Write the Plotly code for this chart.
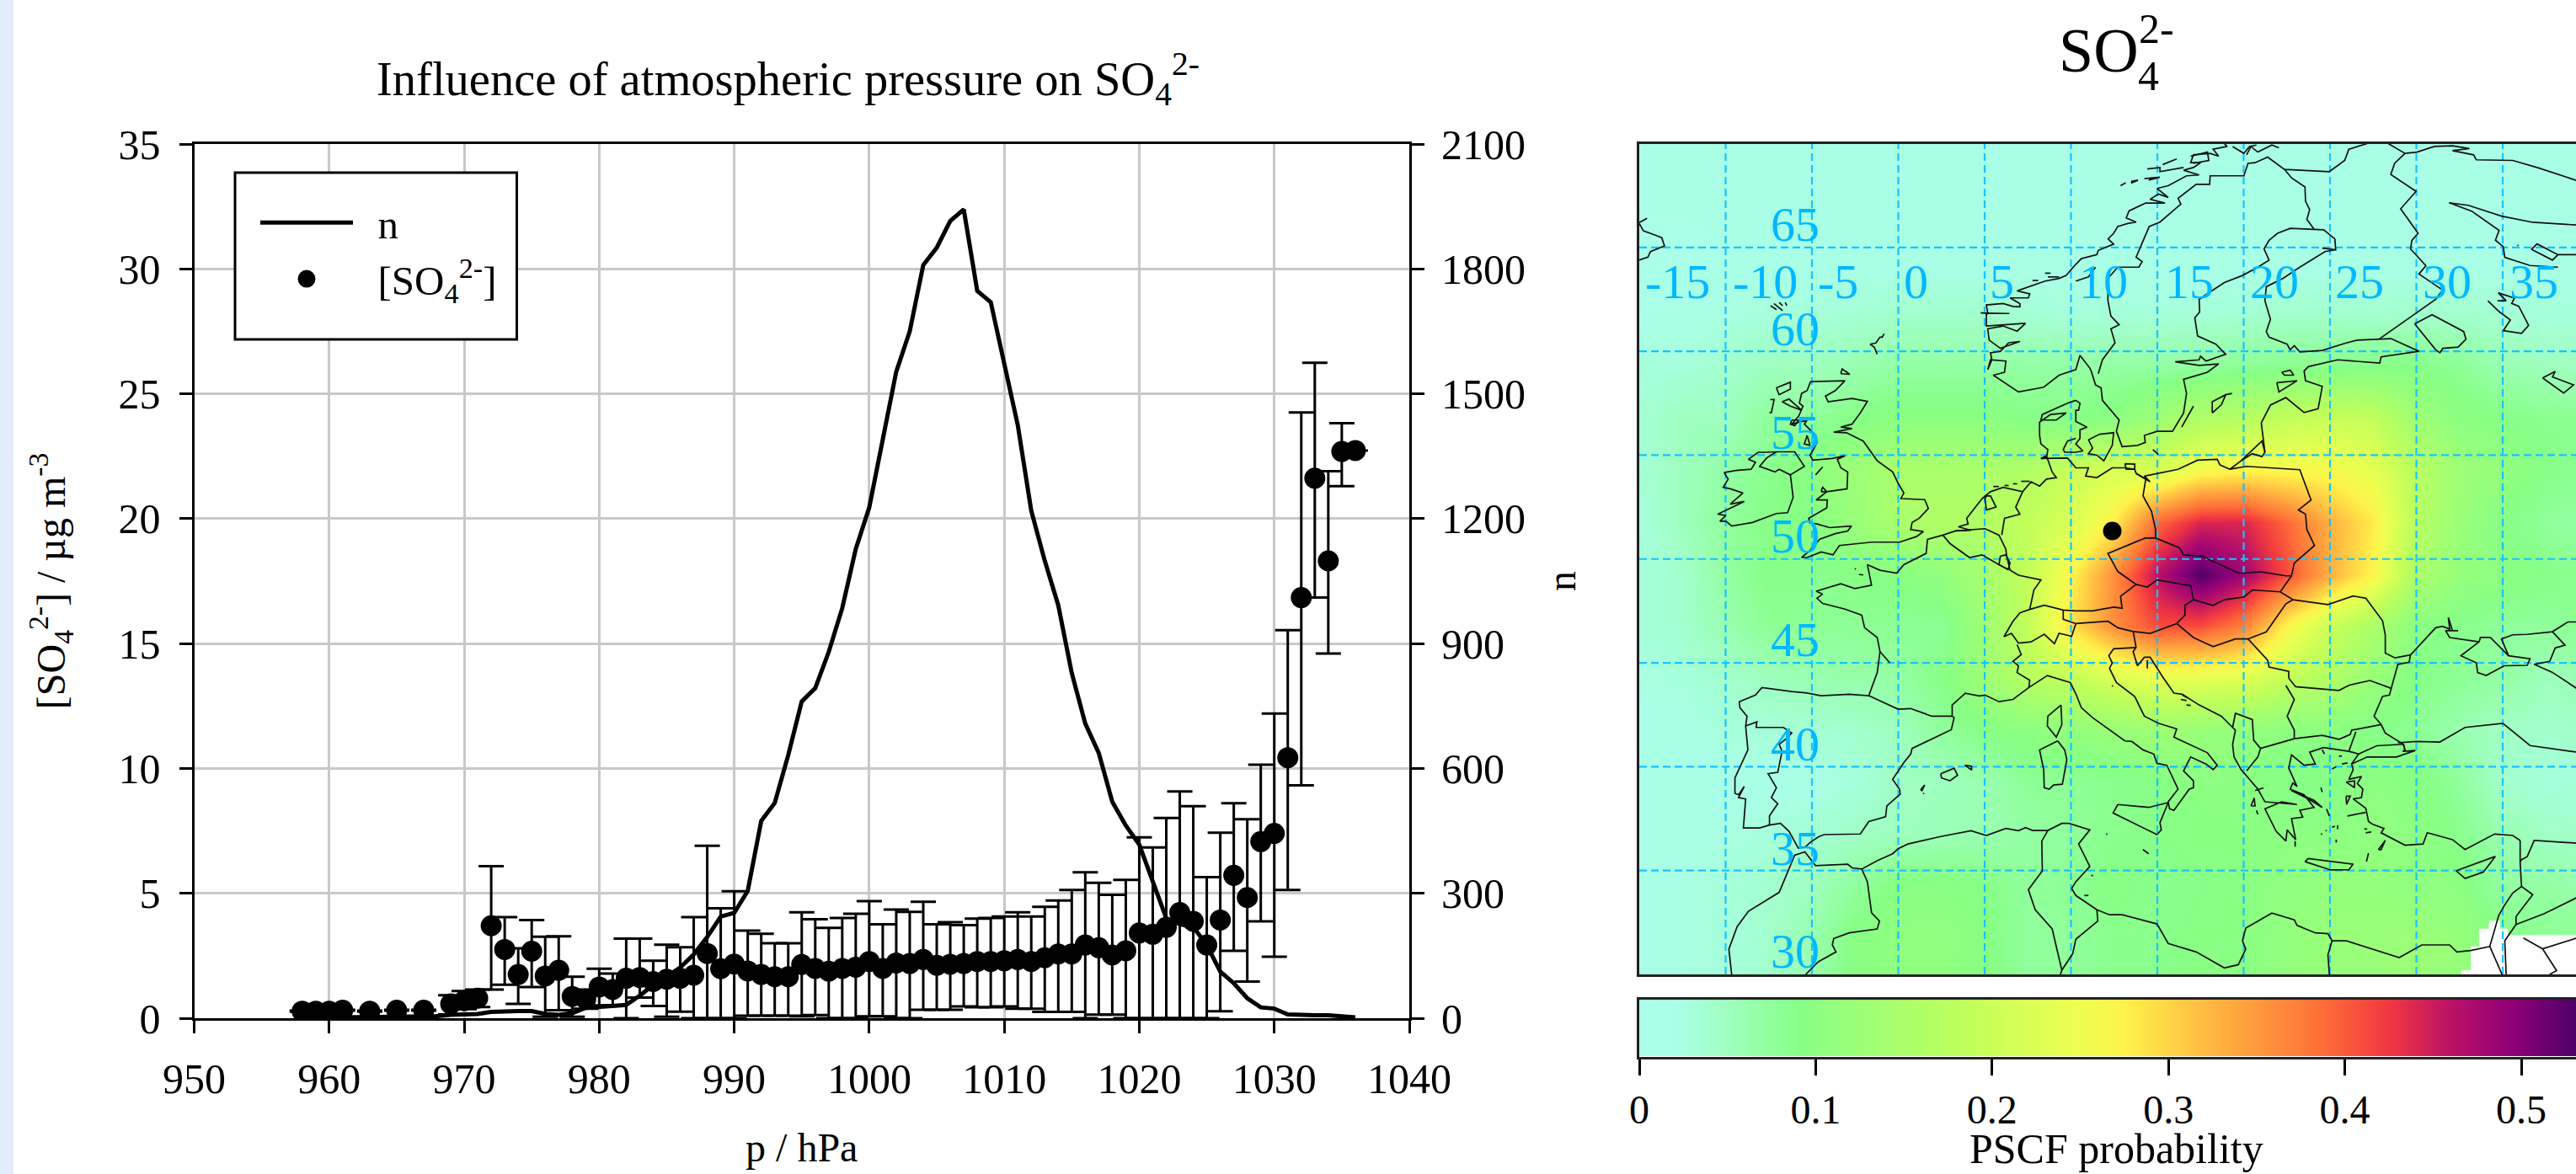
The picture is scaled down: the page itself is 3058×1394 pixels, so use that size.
import plotly.graph_objects as go

W, H = 3058, 1394
FONT = "Liberation Serif"

# ---------------- left panel data ----------------
pressure_n = [958,960,962,964,966,968,969,970,971,972,973,974,975,976,977,978,979,980,981,982,983,984,985,986,987,988,989,990,
              991,992,993,994,995,996,997,998,999,1000,1001,1002,1003,1004,1005,1006,1007,1008,1009,1010,1011,1012,1013,1014,
              1015,1016,1017,1018,1019,1020,1021,1022,1023,1024,1025,1026,1027,1028,1029,1030,1031,1032,1033,1034,1035,1036]
n_values = [1,2,2,3,3,5,8,8,10,15,17,17,17,10,8,12,25,28,30,32,54,80,100,122,153,195,244,253,
            306,474,517,632,761,793,880,985,1127,1227,1390,1553,1650,1809,1851,1915,1943,1747,1720,1567,1425,1219,1099,992,
            829,708,637,520,463,417,325,240,226,219,176,112,84,48,26,23,9,7,7,7,5,2]

pressure_so4 = [958,959,960,961,963,965,967,969,970,971,972,973,974,975,976,977,978,979,980,981,982,983,984,985,986,987,988,989,
                990,991,992,993,994,995,996,997,998,999,1000,1001,1002,1003,1004,1005,1006,1007,1008,1009,1010,1011,1012,1013,
                1014,1015,1016,1017,1018,1019,1020,1021,1022,1023,1024,1025,1026,1027,1028,1029,1030,1031,1032,1033,1034,1035,1036]
so4_values = [.28,.28,.28,.32,.28,.32,.32,.57,.7,.8,3.7,2.75,1.75,2.68,1.69,1.92,.87,.77,1.25,1.15,1.6,1.63,1.47,1.56,1.6,1.72,2.59,1.98,
              2.17,1.89,1.75,1.66,1.66,2.15,1.99,1.88,1.99,2.04,2.27,1.99,2.21,2.19,2.35,2.12,2.16,2.19,2.27,2.27,2.3,2.35,2.27,2.42,
              2.57,2.57,2.93,2.82,2.53,2.7,3.41,3.36,3.64,4.23,3.88,2.93,3.93,5.72,4.83,7.07,7.4,10.43,16.84,21.62,18.31,22.69,22.73]
so4_upper = [.3,.3,.3,.34,.3,.34,.34,.92,1.09,1.15,6.09,4.05,2.8,3.93,3.26,3.28,1.66,1.15,1.98,1.79,3.19,3.19,2.3,2.94,2.84,4.05,6.9,4.4,
             5.08,3.51,3.38,3.0,3.0,4.24,3.96,3.62,4.01,4.18,4.69,3.76,4.35,4.26,4.66,3.76,3.84,3.73,3.99,4.01,4.07,4.24,4.07,4.46,
             4.71,5.13,5.84,5.42,4.94,5.54,7.24,6.84,8.02,9.08,8.49,5.65,7.43,8.61,7.97,10.15,12.2,15.54,24.25,26.24,21.9,23.82,22.73]
so4_lower = [.26,.26,.26,.3,.26,.3,.3,.15,.36,.45,1.15,1.34,.57,1.25,.06,.32,.06,.38,.51,.51,0,.83,.49,.06,.26,0,0,0,
             0,.1,.1,.1,.1,.08,.13,0,0,0,.08,.08,0,0,.34,.34,.34,.47,.44,.44,.47,.38,.38,.25,
             .25,.25,0,.14,.14,0,0,0,0,0,0,0,.28,2.7,1.47,3.88,2.46,5.13,9.32,16.84,14.6,21.3,22.73]

# ---------------- PSCF grid (rows south to north) ----------------
grid_lon = [-15,-12.5,-10,-7.5,-5,-2.5,0,2.5,5,7.5,10,12.5,15,17.5,20,22.5,25,27.5,30,32.5,35,37.5,40,42.5]
grid_lat = [29.25,31.75,34.25,36.75,39.25,41.75,44.25,46.75,49.25,51.75,54.25,56.75,59.25,61.75,64.25,66.75,69.25,71.75]
pscf_29 = [.02,.025,.03,.04,.06,.095,.105,.105,.095,.075,.075,.085,.085,.095,.095,.11,.12,.12,.125,.115,.09,.08,.08,.08]
pscf_31 = [.02,.025,.03,.04,.06,.095,.105,.105,.095,.075,.075,.085,.085,.095,.095,.11,.12,.12,.125,.115,.09,.08,.08,.08]
pscf_34 = [.02,.025,.03,.04,.05,.075,.095,.095,.09,.075,.08,.095,.085,.09,.095,.105,.11,.115,.105,.10,.07,.07,.06,.06]
pscf_36 = [.02,.02,.025,.03,.035,.045,.05,.055,.06,.07,.075,.085,.09,.095,.095,.10,.10,.105,.10,.085,.06,.045,.04,.04]
pscf_39 = [.02,.02,.02,.02,.02,.03,.045,.05,.06,.08,.08,.085,.09,.10,.10,.09,.09,.10,.095,.075,.04,.03,.03,.03]
pscf_41 = [.02,.02,.03,.03,.035,.04,.05,.075,.09,.10,.11,.12,.13,.12,.11,.10,.10,.09,.08,.06,.045,.04,.045,.045]
pscf_44 = [.025,.03,.04,.05,.06,.065,.07,.09,.13,.17,.19,.22,.24,.235,.23,.19,.16,.12,.09,.08,.07,.05,.06,.06]
pscf_46 = [.03,.04,.06,.08,.08,.08,.08,.08,.13,.19,.29,.36,.41,.41,.37,.27,.20,.15,.10,.085,.075,.075,.085,.085]
pscf_49 = [.03,.04,.07,.09,.085,.09,.095,.11,.14,.19,.27,.36,.46,.53,.48,.41,.33,.27,.15,.115,.10,.09,.08,.08]
pscf_51 = [.03,.05,.075,.09,.09,.12,.15,.16,.16,.19,.22,.28,.39,.44,.44,.39,.33,.28,.17,.12,.09,.075,.07,.07]
pscf_54 = [.035,.05,.07,.085,.10,.125,.15,.15,.15,.16,.20,.22,.22,.26,.27,.265,.26,.24,.17,.13,.11,.09,.08,.08]
pscf_56 = [.035,.05,.05,.075,.075,.09,.10,.10,.10,.09,.09,.10,.13,.16,.17,.19,.20,.19,.13,.10,.09,.085,.08,.08]
pscf_59 = [.03,.03,.04,.05,.05,.06,.07,.07,.07,.07,.07,.07,.07,.075,.08,.085,.085,.09,.09,.08,.06,.05,.05,.05]
pscf_61 = [.02,.02,.025,.03,.03,.035,.04,.04,.04,.035,.03,.03,.03,.03,.035,.04,.04,.04,.04,.04,.035,.03,.03,.03]
pscf_64 = [.015,.015,.02,.02,.02,.02,.02,.02,.02,.02,.02,.02,.02,.02,.02,.02,.02,.02,.02,.02,.02,.02,.02,.02]
pscf_66 = [.02,.02,.02,.02,.02,.02,.02,.02,.02,.02,.02,.02,.02,.02,.02,.02,.02,.02,.02,.02,.02,.02,.02,.02]
pscf_69 = [.02,.02,.02,.02,.02,.02,.02,.02,.02,.02,.02,.02,.02,.02,.02,.02,.02,.02,.02,.02,.02,.02,.02,.02]
pscf_71 = [.02,.02,.02,.02,.02,.02,.02,.02,.02,.02,.02,.02,.02,.02,.02,.02,.02,.02,.02,.02,.02,.02,.02,.02]
pscf_rows = [pscf_29,pscf_31,pscf_34,pscf_36,pscf_39,pscf_41,pscf_44,pscf_46,pscf_49,pscf_51,pscf_54,pscf_56,pscf_59,pscf_61,pscf_64,pscf_66,pscf_69,pscf_71]
no_data_lon = [32.6,32.6,33.15,33.15,33.63,33.63,34.2,34.2,34.85,34.85,35.3,35.3,39.3,39.3]
no_data_lat = [30,30.2,30.2,31.35,31.35,32.2,32.2,32.59,32.59,32.2,32.2,31.9,31.9,30]

site_lon, site_lat = [12.39], [51.35]
meridians = [-10,-5,0,5,10,15,20,25,30,35]
parallels = [35,40,45,50,55,60,65]
lon_labels = {"-15":-12.8,"-10":-7.7,"-5":-3.5,"0":1.0,"5":6.0,"10":11.9,"15":16.85,"20":21.8,"25":26.7,"30":31.8,"35":36.8}
lat_labels = {"65":66.1,"60":61.1,"55":56.1,"50":51.1,"45":46.1,"40":41.1,"35":36.05,"30":31.1}

# ---------------- coastlines and borders (lon, lat) ----------------
great_britain = [(-5.08,58.54),(-3.09,58.58),(-3.65,58.11),(-4.22,57.84),(-4.06,57.57),(-2.68,57.73),(-1.79,57.59),(-2.2,57.03),(-2.68,56.49),(-3.33,56.35),(-2.68,56.28),(-3.74,56.11),(-3.0,56.08),(-2.03,55.68),(-1.22,54.73),(-.33,54.19),(-.01,53.65),(.32,53.18),(.15,52.91),(1.53,52.86),(1.74,52.43),(1.21,51.96),(.8,51.76),(.72,51.42),(1.45,51.32),(1.05,51.08),(.07,50.81),(-1.55,50.81),(-3.41,50.65),(-3.78,50.2),(-4.47,50.34),(-5.28,50.07),(-5.6,50.07),(-5.11,50.41),(-4.55,50.95),(-3.65,51.22),(-2.93,51.35),(-2.71,51.59),(-3.98,51.51),(-4.71,51.69),(-5.11,51.73),(-5.19,51.96),(-4.14,52.46),(-4.11,52.84),(-4.76,52.84),(-4.14,53.24),(-2.97,53.38),(-2.93,54.19),(-3.33,54.39),(-3.53,54.8),(-3.09,54.97),(-3.82,54.84),(-4.95,54.76),(-5.11,55),(-4.87,55.34),(-4.71,55.61),(-5.11,56.22),(-5.44,56.49),(-5.28,56.69),(-6.17,56.49),(-5.76,56.89),(-5.52,57.36),(-5.73,57.5),(-5.6,57.97),(-5.28,58.11),(-5.08,58.54)]
ireland = [(-10.09,54.16),(-9.41,54.26),(-8.52,54.32),(-8.27,54.66),(-8.68,54.8),(-8.11,55.14),(-7.63,55.14),(-7.06,55.16),(-6.0,55.16),(-5.44,54.46),(-6.25,54.05),(-6.09,52.97),(-6.41,52.23),(-7.06,52.19),(-8.44,51.76),(-9.65,51.59),(-9.98,51.82),(-10.33,51.82),(-9.98,52.09),(-10.46,52.16),(-9.94,52.36),(-8.92,52.77),(-9.73,52.64),(-9.0,53.18),(-9.73,53.38),(-10.14,53.45),(-9.85,53.85),(-10.09,54.16)]
ni_border = [(-7.06,55.16),(-7.63,54.86),(-8.03,54.46),(-7.14,54.19),(-6.9,54.32),(-6.25,54.05)]
lewis = [(-7.06,58.24),(-6.25,58.51),(-6.25,58.18),(-6.9,57.91),(-7.06,58.24)]
uist = [(-7.41,57.68),(-7.19,57.68),(-7.35,57.05),(-7.46,57.05)]
skye = [(-6.73,57.57),(-6.33,57.7),(-5.6,57.16),(-6.25,57.36),(-6.73,57.57)]
mull = [(-6.17,56.69),(-5.76,56.69),(-6.0,56.42),(-6.25,56.49),(-6.17,56.69)]
arran = [(-5.28,55.95),(-5.11,55.47),(-5.44,55.54),(-5.28,55.95)]
man = [(-4.38,54.43),(-4.79,54.05)]
anglesey = [(-4.47,53.24),(-4.38,53.45),(-4.14,53.24),(-4.47,53.24)]
shetland = [(-.82,60.84),(-.93,60.68),(-1.06,60.68),(-1.3,60.4),(-1.63,60.34),(-1.39,60.2),(-1.22,59.86)]
orkney = [(-3.33,58.92),(-3.25,59.15),(-2.81,58.89),(-3.33,58.92)]
faroe_a = [(-7.4,62.2),(-7.05,62.0)]
faroe_b = [(-7.2,62.3),(-6.7,61.96)]
faroe_c = [(-6.9,62.35),(-6.7,62.2)]
faroe_d = [(-6.55,62.35),(-6.45,62.2)]
iceland = [(-15,66.15),(-14.76,65.8),(-14.1,65.6),(-13.7,65.47),(-13.54,65.07),(-13.95,64.93),(-14.35,64.8),(-14.5,64.53),(-15,64.4)]
iceland_spike = [(-15,66.2),(-14.55,66.4)]
norway_south = [(10.28,64.19),(9.72,63.65),(9.31,63.51),(8.5,63.38),(6.88,62.91),(7.61,62.77),(7.53,62.57),(6.47,62.57),(7.04,62.3),(7.04,62.14),(6.64,62.16),(6.07,62.3),(5.1,62.23),(5.18,61.82),(4.77,61.85),(6.43,61.82),(5.1,61.82),(5.1,61.22),(7.37,61.35),(6.88,60.97),(6.07,61.22),(5.18,61.08),(5.26,60.54),(5.91,60.14),(7.04,60.47),(6.39,60.41),(5.91,60),(5.34,59.93),(5.42,59.59),(5.18,59.12),(5.34,59.59),(6.23,59.53),(6.15,58.99),(5.5,58.85),(6.64,58.24),(6.96,58.04),(8.42,58.27),(9.31,58.85),(10.28,59.12),(10.52,59.8),(11.09,59.19),(11.17,59.05)]
norway_north = [(10.28,64.19),(10.6,64.46),(11.5,64.66),(11.58,64.86),(12.47,65.16),(12.15,65.41),(12.47,65.68),(12.71,66.01),(13.28,66.15),(13.77,66.22),(13.2,66.42),(13.36,66.76),(14.33,67.14),(15.44,67.14),(14.58,67.32),(15.06,67.57),(15.63,67.41),(14.98,67.84),(15.63,67.97),(16.2,68.24),(16.69,68.45),(17.42,68.49),(16.52,68.72),(17.09,68.85),(17.5,69.08),(16.93,69.08),(17.09,69.46),(18.06,69.53),(18.55,69.39),(18.23,69.73),(19.04,69.86),(18.88,70)]
lofoten_a = [(12.87,67.97),(13.17,68.11)]
lofoten_b = [(13.49,68.18),(13.88,68.24),(13.52,68.11),(13.49,68.18)]
lofoten_c = [(14.25,68.31),(15.15,68.38),(14.5,68.24)]
lofoten_d = [(14.42,68.78),(15.15,68.85),(15.15,68.65),(16.52,68.85)]
lofoten_e = [(15.31,68.99),(16.12,69.26)]
senja = [(16.93,69.39),(17.9,69.59),(17.98,69.19),(17.09,69.05)]
troms_a = [(19.36,69.86),(20.01,69.53),(20.34,69.86),(20.74,69.93)]
troms_b = [(20.17,69.46),(20.42,69.86),(20.82,69.59),(21.63,69.93),(22.04,69.8)]
border_se_no = [(11.58,58.92),(11.82,59.59),(12.55,60.41),(12.31,61.08),(12.79,61.28),(12.31,61.69),(12.14,62.43),(12.14,63.51),(12.71,64.05),(13.93,64.05),(14.12,64.32),(13.77,64.53),(14.53,66.01),(15.15,66.22),(16.36,67.09),(16.2,67.36),(17.25,68.04),(18.03,68.04),(18.06,68.45),(20.01,68.45),(20.25,69.05),(20.66,69.08),(21.39,69.35),(22.36,68.76),(24.96,68.65),(25.85,69.19),(26.09,69.73),(27.15,70)]
trondheim = [(10.28,63.38),(11.01,63.58),(11.42,64.05)]
sweden_coast = [(11.17,59.05),(11.42,58.38),(11.74,58.24),(11.82,57.64),(12.79,56.69),(12.63,56.15),(12.96,55.41),(13.85,55.47),(14.3,55.61),(14.25,55.95),(14.98,56.15),(15.88,56.15),(16.52,57.03),(16.69,57.97),(16.52,58.65),(17.9,58.99),(18.55,59.39),(17.42,59.32),(16.04,59.49),(17.42,59.59),(17.5,59.76),(17.82,59.53),(18.96,59.86),(18.39,60.34),(17.33,60.74),(17.17,61.62),(17.45,61.89),(17.42,62.5),(17.9,62.77),(18.88,63.31),(19.93,63.65),(20.82,64.05),(21.47,64.39),(21.18,64.93),(21.47,65.34),(21.96,65.68),(22.69,65.92),(24.07,65.88),(24.63,65.85),(25.28,65.41),(25.33,64.89),(24.55,64.97)]
finland_baltic = [(25.33,64.89),(24.71,64.8),(23.25,64.05),(22.28,63.51),(21.31,63.11),(21.23,62.43),(21.55,61.55),(21.31,60.95),(21.47,60.68),(22.52,60.34),(22.69,60.07),(22.93,60.27),(23.25,59.97),(24.55,60.04),(25.85,60.38),(26.58,60.54),(28.53,60.61),(30.15,60.0),(27.96,59.73),(27.88,59.43),(25.44,59.59),(23.74,59.26),(23.5,59.05),(23.58,58.58),(24.55,58.31),(24.31,57.23),(23.5,57.05),(22.44,57.77),(21.55,57.41),(21.02,56.55),(21.23,55.14),(21.06,54.93),(20.5,55.07),(19.85,54.73),(19.2,54.32)]
vistula_spit = [(19.85,54.73),(21.06,55.68),(21.23,55.14)]
border_se_fi = [(22.36,68.76),(22.77,68.35),(23.55,67.91),(23.58,67.23),(23.82,66.82),(23.66,66.35),(24.07,65.88)]
border_fi_ru = [(27.88,60.61),(31.12,62.5),(31.52,62.95),(30.15,63.72),(30.55,64.12),(29.66,64.93),(29.74,65.34),(30.1,65.68),(29.09,66.86),(29.98,67.7),(28.52,68.51),(28.74,69.05),(29.34,69.53),(28.37,70)]
kola_north = [(29.34,69.53),(30.03,69.59),(31.04,69.86),(32.09,69.89),(33.07,69.76),(32.09,69.66),(33.31,69.46),(33.47,69.22),(35.58,69.19),(37.07,68.83),(39.3,68.22)]
white_sea_n = [(31.9,67.15),(33.0,67.03),(34.93,66.51),(36.74,66.21),(39.3,66.08)]
white_sea_s = [(31.9,67.15),(33.2,66.75),(34.79,65.82),(34.58,65.35),(35.03,65.04),(35.12,64.52),(36.58,64.13),(38.2,64.05)]
white_sea_e = [(36.66,64.91),(36.99,65.17),(38.2,64.65),(39.3,64.65)]
white_sea_f = [(36.66,64.91),(37.88,64.39),(38.2,64.65)]
ladoga = [(29.9,61.32),(30.91,61.76),(32.74,60.95),(32.87,60.58),(32.42,60.2),(31.53,60.14),(31.36,59.93),(31.12,60.07),(29.9,61.32)]
onega = [(34.14,62.43),(34.79,61.91),(35.44,61.51),(35.03,60.99),(36.09,60.86),(36.5,61.25),(35.93,62.17),(35.52,62.3),(35.68,62.56),(34.74,62.82),(35.2,62.43),(34.7,62.43)]
rybinsk = [(37.31,58.72),(38.04,59.03),(37.88,58.77),(39.1,58.38),(38.53,57.99),(37.31,58.72)]
saaremaa = [(22.2,58.99),(22.69,59.09),(22.9,58.85),(22.36,58.85),(22.2,58.99)]
hiiumaa = [(21.92,58.49),(23.09,58.58),(22.04,58.04),(21.92,58.49)]
gotland = [(18.18,57.03),(18.18,57.57),(18.96,57.91),(19.33,57.97),(18.96,57.91),(18.71,57.43),(18.18,57.03)]
oland = [(16.41,56.35),(17.09,57.36),(16.52,56.49),(16.41,56.35)]
bornholm = [(14.74,55.27),(15.06,55.03)]
sjaelland = [(11.01,55.74),(11.66,56.01),(12.47,56.08),(12.39,55.47),(11.9,54.73),(11.5,55),(11.01,55.07),(11.25,55.34),(11.01,55.74)]
jutland = [(10.28,57.64),(9.8,57.5),(8.34,56.96),(8.26,56.69),(9.15,56.69),(9.72,57.03),(8.82,56.96),(8.18,56.59),(8.18,55.95),(8.26,55.54),(8.66,55.27),(8.58,54.86),(8.26,54.84),(8.58,54.97),(8.91,54.19),(9.15,53.92),(8.58,53.85),(8.18,53.51),(7.69,53.72),(7.2,53.24),(6.07,53.45),(5.34,53.24),(4.85,52.91),(3.96,51.96),(4.04,51.69),(3.48,51.55),(4.21,51.38),(3.31,51.35),(2.58,51.15),(1.69,50.95),(1.61,50.27),(.32,49.73),(-.09,49.32),(-1.06,49.46),(-1.79,49.73),(-1.55,48.74),(-2.52,48.58),(-3.33,48.81),(-4.76,48.45),(-4.38,48.31),(-4.71,48.11),(-4.38,47.86),(-3.09,47.59),(-2.12,47.3),(-1.95,46.69),(-1.22,46.22),(-1.06,45.54),(-1.22,44.53),(-1.71,43.42),(-2.84,43.49),(-4.47,43.42),(-5.28,43.55),(-6.17,43.62),(-7.9,43.81),(-8.27,43.45),(-9.21,43.13),(-9.17,42.84),(-8.76,42.43),(-8.84,41.96),(-8.71,40.81),(-9.46,39.46),(-9.46,38.72),(-9.25,38.65),(-8.92,39.05),(-9.25,38.51),(-8.84,38.45),(-8.97,37.05),(-8.03,37.05),(-7.46,37.19),(-6.82,37.27),(-6.33,36.89),(-5.79,36.08),(-5.36,36.15),(-5.11,36.35),(-4.63,36.62),(-4.3,36.73),(-2.2,36.76),(-1.71,37.36),(-.74,37.59),(-.66,38.11),(.11,38.68),(.07,38.92),(-.33,39.39),(.32,40.2),(.72,40.61),(.8,40.88),(3.07,41.78),(3.23,42.36),(3.12,42.43),(3.12,42.97),(3.88,43.54),(4.69,43.41),(5.02,43.45),(5.83,43.13),(6.64,43.24),(7.56,43.81),(8.63,44.39),(9.96,44.05),(10.28,43.51),(10.6,42.84),(11.25,42.36),(13.12,41.24),(13.52,41.22),(14.17,40.81),(14.79,40.61),(14.98,40.16),(15.55,40.07),(16.2,38.92),(15.63,38.31),(15.71,37.97),(15.96,37.9),(16.85,38.92),(17.09,38.99),(17.09,39.32),(16.52,39.8),(16.93,40.47),(17.82,40.13),(18.23,39.86),(18.47,40.07),(17.9,40.67),(15.96,41.42),(16.12,41.82),(15.06,42.09),(14.25,42.43),(13.69,43.38),(12.63,44.05),(12.23,44.73),(12.39,45.0),(12.19,45.34),(12.47,45.68),(13.77,45.74)]
jutland_east = [(10.28,57.64),(10.52,57.5),(10.44,57.16),(10.28,57.16),(10.28,56.62),(10.93,56.35),(10.52,56.22),(10.52,55.81),(10.28,55.54),(10.69,55.2),(10.28,55.14),(9.64,55.14),(9.55,55.27),(9.8,55.68),(10.28,55.81)]
schleswig = [(8.26,54.84),(9.8,54.86),(10.28,54.39),(11.01,54.39),(10.85,53.99),(11.5,53.92),(12.39,54.39),(13.12,54.39),(13.69,54.32),(13.77,54.12),(14.58,53.72),(14.25,53.99),(16.2,54.32),(17.33,54.76),(18.47,54.8),(18.63,54.53),(19.2,54.32)]
rugen = [(13.12,54.59),(13.69,54.57),(13.69,54.32),(13.2,54.32),(13.12,54.59)]
ijsselmeer = [(5.1,53.04),(5.34,53.04),(5.66,52.5),(5.1,52.36),(5.02,52.91),(5.1,53.04)]
border_nl_de = [(7.2,53.24),(6.8,52.5),(7.04,52.16),(6.15,51.96),(5.99,51.15)]
border_be_nl = [(3.31,51.35),(5.02,51.46),(5.83,51.15),(6.23,50.47),(6.26,50.2),(6.47,49.46),(6.96,49.22),(8.26,48.99),(7.85,48.51),(7.61,47.57)]
border_fr_be = [(2.58,51.15),(3.0,50.74),(4.12,50.07),(4.85,50.2),(5.83,49.73),(6.36,49.49)]
luxembourg = [(5.91,50.14),(5.83,49.73),(6.36,49.49),(6.47,49.8),(6.23,50.2),(5.91,50.14)]
border_fr_ch = [(7.61,47.57),(7.04,47.41),(6.64,47.0),(6.12,46.26),(6.55,46.42),(6.96,45.95)]
border_ch_de = [(7.61,47.57),(8.45,47.77),(9.55,47.54),(10.28,47.5)]
border_ch_it = [(6.96,45.95),(7.69,46.01),(8.45,46.38),(9.04,45.92),(9.31,46.42),(10.04,46.28),(10.28,46.89)]
liechtenstein = [(9.55,47.54),(9.55,47.1),(10.28,46.89)]
border_fr_it = [(6.88,45.88),(7.12,45.4),(6.64,45.07),(6.96,44.86),(6.88,44.53),(7.61,44.16),(7.56,43.81)]
pyrenees = [(-1.71,43.42),(-.01,42.77),(.72,42.8),(1.94,42.43),(3.12,42.43)]
border_es_pt = [(-8.84,41.96),(-8.19,42.16),(-8.23,41.89),(-6.65,41.89),(-6.17,41.62),(-6.49,41.35),(-6.9,41.08),(-6.73,40.74),(-6.98,39.73),(-7.54,39.66),(-7.06,38.99),(-7.35,38.51),(-6.98,38.22),(-7.46,37.63),(-7.46,37.19)]
gironde = [(-1.06,45.54),(-.49,45.0)]
mallorca = [(2.46,39.66),(3.23,39.93),(3.43,39.59),(2.99,39.32),(2.5,39.46),(2.46,39.66)]
menorca = [(3.85,40.07),(4.24,40.03),(4.25,39.84),(3.85,40.07)]
ibiza = [(1.29,38.89),(1.53,39.12),(1.37,38.85),(1.29,38.89)]
corsica = [(9.42,42.97),(9.47,42.03),(9.15,41.42),(8.63,41.96),(8.66,42.43),(9.42,42.97)]
sardinia = [(9.23,41.24),(9.63,40.81),(9.76,40.34),(9.5,39.16),(8.99,39.12),(8.74,38.92),(8.45,38.99),(8.42,39.86),(8.18,40.81),(9.23,41.24)]
sicily = [(12.71,38.18),(14.5,38.04),(15.63,38.27),(15.15,37.3),(15.23,36.96),(14.98,36.73),(12.44,37.77),(12.71,38.18)]
africa_west = [(-9.65,30),(-9.81,31.22),(-9.33,32.3),(-8.68,33.04),(-6.9,33.95),(-6.0,35.74),(-5.41,35.9),(-4.79,35.24),(-2.93,35.31),(-2.68,35.13),(-2.12,35.07),(-1.22,35.47),(-.33,35.81),(-.01,36.05),(.56,36.28),(2.34,36.62),(4.21,36.92),(5.1,36.69),(6.23,37.03),(6.96,36.92),(7.37,37.07),(7.77,36.93),(8.66,36.93),(9.47,37.27),(9.88,37.27),(10.28,37.16),(11.09,36.96),(10.44,36.28),(11.09,35.2),(10.28,34.46),(10.04,34.14),(10.28,33.8),(10.93,33.44),(11.5,33.11),(12.23,32.87),(12.96,32.87),(14.98,32.43),(15.63,31.49),(17.25,31.08),(18.88,30.31),(19.69,30.47),(20.12,31.22),(19.93,31.62),(20.12,32.23),(21.63,32.95),(22.93,32.63),(23.09,32.36),(24.15,32.0),(24.88,31.96),(25.12,31.62),(25.93,31.62),(29.01,30.81),(30.31,31.42),(31.93,31.42),(32.34,31.08),(33.15,31.15),(34.25,31.35),(34.77,32.84),(35.09,33.31),(35.58,33.92),(36.09,34.23),(36.01,35.4),(36.01,36.45)]
border_ma_dz = [(-2.12,35.07),(-1.79,34.46),(-1.55,32.97),(-1.09,32.57),(-1.22,32.19),(-2.84,32.0),(-3.74,31.73),(-3.82,31.42),(-3.61,31.08),(-4.63,30.61),(-5.36,30)]
border_dz_tn = [(8.66,36.93),(8.31,36.42),(8.34,34.99),(7.53,34.08),(7.93,33.11),(8.91,32.19),(9.47,30.2),(9.39,30)]
border_tn_ly = [(9.47,30.2),(10.1,31.0),(10.28,31.69),(11.55,32.57),(11.5,33.11)]
border_ly_eg = [(25.12,31.62),(24.88,30.94),(24.96,30)]
sinai = [(34.25,31.35),(34.96,30)]
israel = [(35.77,32.79),(35.77,32.4),(35.12,31.62),(35.2,30)]
border_jo = [(36.09,34.23),(36.74,33.84),(35.77,32.79)]
border_iq = [(35.77,32.4),(37.39,32.92),(39.3,33.7)]
border_sa = [(36.2,31.75),(37.31,31.23),(38.12,30.18),(37.72,30)]
border_sa2 = [(37.31,31.23),(39.3,31.75)]
border_pl_de = [(13.77,54.12),(14.33,53.85),(14.17,53.04),(14.66,52.3),(14.9,51.42),(14.9,51.01)]
border_de_cz = [(14.9,51.01),(14.3,51.01),(12.14,50.27),(12.71,49.4),(13.77,48.78),(14.42,48.65),(14.98,48.99),(16.93,48.72),(17.09,48.04)]
border_de_at = [(13.77,48.78),(12.87,48.2),(12.96,47.63),(12.47,47.68),(11.25,47.5),(10.28,47.5)]
poland_east = [(19.2,54.32),(20.17,54.46),(23.25,54.3),(23.9,52.84),(23.17,52.36),(23.58,52.16),(23.66,51.42),(24.1,50.65),(22.93,49.8),(22.77,49.19),(22.12,48.42)]
border_pl_cz = [(14.9,51.01),(16.28,50.54),(16.52,50.2),(17.58,50.14),(18.31,49.86),(19.69,49.32),(20.01,49.32),(20.98,49.39),(22.44,49.19),(22.77,49.19)]
border_sk_hu = [(17.09,48.04),(18.23,47.77),(18.88,48.04),(20.01,48.17),(20.5,48.51),(22.12,48.42),(22.85,48.04)]
border_at_hu = [(17.09,48.04),(16.6,47.77),(16.6,47.3),(16.12,46.89)]
border_at_it = [(10.28,46.89),(12.15,47.0),(12.71,46.69),(13.6,46.51),(14.58,46.42),(16.12,46.89)]
border_hu_hr = [(16.12,46.89),(17.09,46.22),(18.23,45.78),(19.52,46.15),(20.25,46.15),(21.31,46.49),(22.44,47.84),(22.85,48.04)]
romania_north = [(22.85,48.04),(24.88,47.81),(26.34,48.22),(27.07,48.11),(28.04,47.03),(28.2,46.35),(28.2,45.47),(28.77,45.24),(29.66,45.38)]
black_sea_west = [(29.66,45.38),(29.58,45.03),(28.93,44.93),(28.52,43.78),(28.44,43.45),(28.04,43.38),(27.55,42.43),(27.96,42.03),(28.2,41.62),(29.25,41.08),(29.34,40.81)]
border_ro_bg = [(22.61,44.26),(23.01,43.85),(25.52,43.67),(26.09,43.92),(27.31,44.15),(28.52,43.78)]
border_ro_rs = [(20.25,46.15),(21.39,45.13),(21.47,44.8),(22.61,44.59),(22.61,44.26)]
border_rs_bg = [(22.44,43.92),(22.93,43.24),(22.52,42.43),(22.93,41.76),(22.93,41.35)]
border_bg_gr = [(22.93,41.35),(24.55,41.51),(25.52,41.32),(26.17,41.55),(26.25,41.76),(27.96,42.03)]
border_gr_tr = [(26.5,41.69),(26.09,40.74)]
border_al_gr = [(20.98,40.88),(22.93,41.35)]
adriatic_east = [(13.77,45.74),(13.6,45.54),(13.85,44.86),(14.25,45.27),(14.58,45.27),(15.31,44.32),(15.96,43.54),(16.44,43.49),(17.42,42.97),(18.71,42.43),(19.36,41.89),(19.52,42.57),(20.5,42.27),(20.58,41.28),(20.98,40.88),(20.82,40.47),(20.17,39.8)]
border_si = [(13.6,46.51),(13.77,45.74)]
greece_turkey = [(19.36,41.89),(19.52,41.76),(19.36,41.08),(19.44,40.47),(19.85,39.86),(20.82,38.92),(21.23,38.31),(23.09,38.18),(22.2,38.31),(21.23,37.97),(21.88,36.89),(22.44,36.42),(22.52,36.96),(23.01,36.49),(22.77,37.5),(23.42,37.57),(23.25,37.9),(24.07,38.04),(23.5,38.65),(22.69,38.92),(22.85,39.22),(23.09,39.05),(22.61,39.93),(22.77,40.57),(23.5,40.07),(24.15,40.13),(23.82,40.7),(24.63,40.92),(26.09,40.74),(26.66,40.61),(26.25,40.13),(26.34,39.86),(26.09,39.39),(26.82,39.53),(26.58,39.19),(26.9,38.92),(26.82,38.51),(26.34,38.45),(27.07,38.0),(27.23,37.36),(27.47,37.23),(28.12,37.03),(27.96,36.82),(29.34,36.22),(30.39,36.28),(30.63,36.82),(32.09,36.49),(32.82,36.01),(34.53,36.76),(35.58,36.69),(36.01,36.45)]
turkey_south_border = [(36.01,35.4),(36.09,35.53),(36.42,35.67),(36.82,36.45),(39.3,36.32)]
marmara = [(26.25,40.13),(27.15,40.47),(28.85,40.47),(29.94,40.78),(29.21,40.74),(29.34,40.81),(29.25,41.08)]
thrace = [(26.66,40.61),(27.71,41.01),(29.25,41.08)]
turkey_north = [(28.93,41.15),(29.98,41.22),(31.36,41.19),(32.82,41.89),(35.01,42.09),(36.58,41.02),(39.3,40.7)]
ukraine_coast = [(29.66,45.38),(31.12,46.69),(31.52,46.76),(31.93,46.62),(31.85,47.19),(32.09,46.55),(32.42,46.55),(31.69,46.55),(31.93,46.22),(33.63,46.01),(32.58,45.34),(33.47,45.0),(33.55,44.53),(34.04,44.39),(35.09,44.86),(36.42,44.88),(36.58,45.2),(35.34,45.34),(34.61,45.95),(34.28,46.22),(33.71,46.22),(33.63,46.01)]
azov = [(35.34,45.34),(34.93,46.15),(35.58,46.35),(36.42,46.37),(37.88,46.5),(38.77,46.97),(39.3,46.97)]
caucasus = [(37.88,46.5),(38.61,45.85),(38.04,45.72),(37.72,45.07),(36.82,44.93),(37.88,44.54),(39.3,43.76)]
cyprus = [(32.3,34.99),(34.57,35.68),(33.88,34.93),(32.82,34.62),(32.3,34.99)]
crete = [(23.55,35.43),(23.74,35.58),(26.34,35.31),(26.09,35.04),(25.04,35.03),(23.55,35.43)]
rhodes = [(27.8,36.01),(28.2,36.45),(27.96,36.01),(27.8,36.01)]
karpathos = [(27.11,35.43),(27.23,35.84)]
lesbos = [(25.93,39.26),(26.42,39.32),(26.42,38.99),(25.93,39.26)]
chios = [(25.93,38.58),(26.17,38.58),(25.96,38.18),(25.93,38.58)]
euboea = [(22.77,38.85),(24.07,38.38),(24.55,38.04),(23.74,38.45),(22.77,38.85)]
ionian = [(20.42,38.11),(20.61,38.49),(20.66,38.11),(20.42,38.11)]
dash_pairs = [
    [(20.66,38.85),(21.15,38.98)],[(20.74,37.9),(20.82,37.7)],[(24.55,40.81),(24.68,40.61)],[(25.52,40.51),(25.69,40.51)],
    [(25.69,40.13),(26.01,40.18)],[(24.47,38.99),(24.55,38.78)],[(24.8,37.97),(24.96,37.63)],[(25.12,39.89),(25.36,40.0)],
    [(25.12,37.09),(25.28,37.13)],[(25.44,37.19),(25.44,36.99)],[(24.47,36.76),(24.55,36.76)],[(25.36,36.49),(25.36,36.35)],
    [(26.01,37.63),(27.07,37.8)],[(26.98,37.0),(27.15,37.0)],[(27.07,36.82),(27.39,36.86)],[(22.98,36.42),(22.98,36.15)],
    [(14.17,36.01),(14.5,35.81)],[(16.36,43.24),(16.69,43.18)],[(16.69,42.97),(16.93,42.95)],[(16.44,43.45),(16.77,43.31)],
    [(10.77,33.8),(11.01,33.81)],[(11.17,34.76),(11.28,34.76)],[(12.06,36.78),(12.08,36.72)],[(12.39,43.92),(12.42,43.86)],
    [(-2.52,49.53),(-2.45,49.52)],[(-2.28,49.26),(-2.03,49.23)],[(14.42,45.13),(14.42,44.73)],[(5.5,53.49),(5.82,53.49)],
    [(6.15,53.54),(6.39,53.54)],[(6.64,53.62),(6.88,53.62)],[(7.12,53.74),(7.61,53.74)],[(7.77,63.41),(8.1,63.41)],
    [(8.5,63.76),(8.82,63.76)],[(8.66,63.58),(9.31,63.58)],[(35.85,65.12),(35.9,65.08)],[(24.76,36.95),(24.8,36.9)],[(1.45,38.74),(1.48,38.68)],
]
coast_lines = [great_britain,ireland,ni_border,lewis,uist,skye,mull,arran,man,anglesey,shetland,orkney,faroe_a,faroe_b,faroe_c,faroe_d,
    iceland,iceland_spike,norway_south,norway_north,lofoten_a,lofoten_b,lofoten_c,lofoten_d,lofoten_e,senja,troms_a,troms_b,border_se_no,
    trondheim,sweden_coast,finland_baltic,vistula_spit,border_se_fi,border_fi_ru,kola_north,white_sea_n,white_sea_s,white_sea_e,white_sea_f,
    ladoga,onega,rybinsk,saaremaa,hiiumaa,gotland,oland,bornholm,sjaelland,jutland,jutland_east,schleswig,rugen,ijsselmeer,border_nl_de,
    border_be_nl,border_fr_be,luxembourg,border_fr_ch,border_ch_de,border_ch_it,liechtenstein,border_fr_it,pyrenees,border_es_pt,gironde,
    mallorca,menorca,ibiza,corsica,sardinia,sicily,africa_west,border_ma_dz,border_dz_tn,border_tn_ly,border_ly_eg,sinai,israel,border_jo,
    border_iq,border_sa,border_sa2,border_pl_de,border_de_cz,border_de_at,poland_east,border_pl_cz,border_sk_hu,border_at_hu,border_at_it,
    border_hu_hr,romania_north,black_sea_west,border_ro_bg,border_ro_rs,border_rs_bg,border_bg_gr,border_gr_tr,border_al_gr,adriatic_east,
    border_si,greece_turkey,turkey_south_border,marmara,thrace,turkey_north,ukraine_coast,azov,caucasus,cyprus,crete,rhodes,karpathos,lesbos,
    chios,euboea,ionian] + dash_pairs

colorbar_values = [0,.1,.2,.3,.4,.5,.55]
PSCF_MAX = .55
pscf_colors = [[0,"#A9FFEA"],[.04,"#A9FFE6"],[.1,"#9CFFB8"],[.165,"#87FF86"],[.33,"#BEFF5C"],[.45,"#EDFF50"],[.5,"#FFF24A"],
               [.6,"#FFB040"],[.7,"#FF7038"],[.77,"#F23840"],[.84,"#B81068"],[.9,"#8E0078"],[.965,"#4E0068"],[1,"#3A0058"]]

# ---------------- helpers: pixel layout -> paper fractions ----------------
def fx(p): return p / W
def fy(p): return 1 - p / H
def ptrace(lines):
    xs, ys = [], []
    for ln in lines:
        xs += [p[0] for p in ln] + [None]
        ys += [p[1] for p in ln] + [None]
    return xs, ys

LEFT = (230.5, 1673, 171, 1209)
MAP = (1946, 3058, 170.5, 1157)
CB = (1946, 3058, 1187, 1254.5)

fig = go.Figure()
# n on the primary (right) axis so the dots of the overlay sit on top
fig.add_trace(go.Scatter(x=pressure_n, y=n_values, mode="lines", name="&nbsp;&nbsp;n",
                         line=dict(color="black", width=5), xaxis="x", yaxis="y"))
fig.add_trace(go.Scatter(x=pressure_so4, y=so4_values, mode="markers", name="&nbsp;&nbsp;[SO<sub>4</sub><sup>2-</sup>]",
                         marker=dict(color="black", size=20, line=dict(color="black", width=5)),
                         error_y=dict(type="data", symmetric=False, array=[u - v for u, v in zip(so4_upper, so4_values)],
                                      arrayminus=[v - l for v, l in zip(so4_values, so4_lower)],
                                      color="black", thickness=3, width=15),
                         xaxis="x", yaxis="y2"))

fig.add_trace(go.Heatmap(x=grid_lon, y=grid_lat, z=pscf_rows, zmin=0, zmax=PSCF_MAX, colorscale=pscf_colors, zsmooth="best",
                         showscale=False, xaxis="x3", yaxis="y3", hoverinfo="skip"))
fig.add_trace(go.Scatter(x=no_data_lon, y=no_data_lat, mode="none", fill="toself", fillcolor="white", showlegend=False,
                         xaxis="x3", yaxis="y3", hoverinfo="skip"))
gx, gy = [], []
for lo in meridians:
    gx += [lo, lo, None]; gy += [30, 70, None]
for la in parallels:
    gx += [-15, 39.3, None]; gy += [la, la, None]
fig.add_trace(go.Scatter(x=gx, y=gy, mode="lines", line=dict(color="#17C3FF", width=2.2, dash="9px,5px"), showlegend=False,
                         xaxis="x3", yaxis="y3", hoverinfo="skip"))
cx, cy = ptrace(coast_lines)
fig.add_trace(go.Scatter(x=cx, y=cy, mode="lines", line=dict(color="#111111", width=1.7), showlegend=False,
                         xaxis="x3", yaxis="y3", hoverinfo="skip"))
fig.add_trace(go.Scatter(x=site_lon, y=site_lat, mode="markers", marker=dict(color="black", size=22), showlegend=False,
                         xaxis="x3", yaxis="y3", hoverinfo="skip"))
fig.add_trace(go.Heatmap(x=colorbar_values, y=[0, 1], z=[colorbar_values, colorbar_values], zmin=0, zmax=PSCF_MAX,
                         colorscale=pscf_colors, zsmooth="best", showscale=False, xaxis="x4", yaxis="y4", hoverinfo="skip"))

tick_font = dict(family=FONT, size=50, color="black")
title_font = dict(family=FONT, size=48, color="black")
blue = "#00B8FF"
anns = []
for txt, lo in lon_labels.items():
    anns.append(dict(x=lo, y=63.35, xref="x3", yref="y3", xanchor="center", yanchor="middle", text=txt, showarrow=False, font=dict(family=FONT, size=58, color=blue)))
for txt, la in lat_labels.items():
    anns.append(dict(x=-6.0, y=la, xref="x3", yref="y3", xanchor="center", yanchor="middle", text=txt, showarrow=False, font=dict(family=FONT, size=58, color=blue)))
anns += [
    dict(x=fx(936), y=fy(94), xref="paper", yref="paper", xanchor="center", yanchor="middle", showarrow=False,
         text="Influence of atmospheric pressure on SO<sub>4</sub><sup>2-</sup>", font=dict(family=FONT, size=56.5, color="black")),
    dict(x=fx(2491), y=fy(60), xref="paper", yref="paper", xanchor="center", yanchor="middle", showarrow=False, text="SO", font=dict(family=FONT, size=74, color="black")),
    dict(x=fx(2560), y=fy(34), xref="paper", yref="paper", xanchor="center", yanchor="middle", showarrow=False, text="2-", font=dict(family=FONT, size=50, color="black")),
    dict(x=fx(2550), y=fy(90), xref="paper", yref="paper", xanchor="center", yanchor="middle", showarrow=False, text="4", font=dict(family=FONT, size=50, color="black")),
    dict(x=fx(2512), y=fy(1393), xref="paper", yref="paper", xanchor="center", yanchor="bottom", showarrow=False, borderpad=0,
         text="PSCF probability", font=dict(family=FONT, size=50, color="black")),
]

fig.update_layout(
    width=W, height=H, margin=dict(l=0, r=0, t=0, b=0, autoexpand=False), autosize=False,
    paper_bgcolor="white", plot_bgcolor="white", font=dict(family=FONT, color="black"),
    annotations=anns,
    showlegend=True,
    legend=dict(x=fx(304), y=fy(226), xanchor="left", yanchor="top", bgcolor="rgba(0,0,0,0)", borderwidth=0,
                font=dict(family=FONT, size=49, color="black"), itemwidth=110, itemsizing="trace", traceorder="normal", tracegroupgap=12),
    shapes=[
        dict(type="rect", xref="paper", yref="paper", x0=0, x1=fx(16), y0=0, y1=1, fillcolor="#E4EBFB", line=dict(width=0), layer="below"),
        dict(type="rect", xref="paper", yref="paper", x0=fx(279), x1=fx(613.5), y0=fy(403), y1=fy(205),
             fillcolor="white", line=dict(color="black", width=3), layer="above"),
    ],
    xaxis=dict(domain=[fx(LEFT[0]), fx(LEFT[1])], range=[950, 1040], tick0=950, dtick=10, anchor="y",
               showgrid=True, gridcolor="#C8C8C8", gridwidth=3, zeroline=False, showline=True, linecolor="black", linewidth=3,
               mirror=True, ticks="outside", ticklen=15, tickwidth=3, tickcolor="black", tickfont=tick_font,
               title=dict(text="p / hPa", font=title_font, standoff=38), ticklabelstandoff=11),
    yaxis=dict(domain=[fy(LEFT[3]), fy(LEFT[2])], range=[0, 2100], tick0=0, dtick=300, anchor="x", side="right",
               showgrid=True, gridcolor="#C8C8C8", gridwidth=3, zeroline=False, showline=True, linecolor="black", linewidth=3,
               ticks="outside", ticklen=15, tickwidth=3, tickcolor="black", tickfont=tick_font,
               title=dict(text="n", font=title_font, standoff=27), ticklabelstandoff=10),
    yaxis2=dict(domain=[fy(LEFT[3]), fy(LEFT[2])], range=[0, 35], tick0=0, dtick=5, anchor="x", overlaying="y", side="left",
                showgrid=False, zeroline=False, showline=True, linecolor="black", linewidth=3,
                ticks="outside", ticklen=15, tickwidth=3, tickcolor="black", tickfont=tick_font,
                title=dict(text="[SO<sub>4</sub><sup>2-</sup>] / µg m<sup>-3</sup>", font=title_font, standoff=48), ticklabelstandoff=12),
    xaxis3=dict(domain=[fx(MAP[0]), fx(MAP[1])], range=[-15, -15 + (MAP[1] - MAP[0]) / 20.5], anchor="y3", showgrid=False, zeroline=False,
                showticklabels=False, ticks="", showline=True, linecolor="#222222", linewidth=3, mirror=True),
    yaxis3=dict(domain=[fy(MAP[3]), fy(MAP[2])], range=[30, 70], anchor="x3", showgrid=False, zeroline=False,
                showticklabels=False, ticks="", showline=True, linecolor="#222222", linewidth=3, mirror=True),
    xaxis4=dict(domain=[fx(CB[0]), fx(CB[1])], range=[0, (CB[1] - CB[0]) / 2094], anchor="y4", tick0=0, dtick=.1, tickformat="~g",
                showgrid=False, zeroline=False, ticks="outside", ticklen=19, tickwidth=2.5, tickcolor="black", tickfont=dict(family=FONT, size=48, color="black"),
                showline=True, linecolor="#222222", linewidth=3, mirror=True, ticklabelstandoff=0),
    yaxis4=dict(domain=[fy(CB[3]), fy(CB[2])], range=[0, 1], anchor="x4", showgrid=False, zeroline=False, showticklabels=False,
                ticks="", showline=True, linecolor="#222222", linewidth=3, mirror=True),
)
fig.write_html("out.html", config=dict(displayModeBar=False),
               post_script="document.body.style.margin='0';document.documentElement.style.overflow='hidden';document.body.style.overflow='hidden';")
